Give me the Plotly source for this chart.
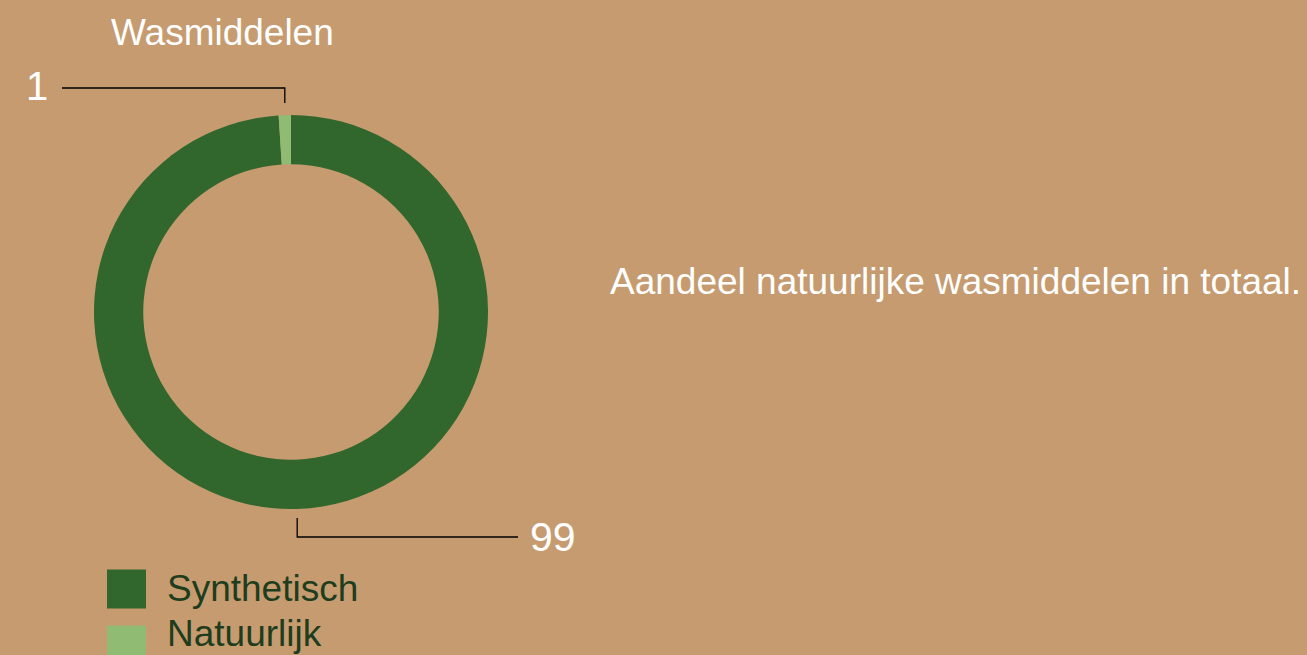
import math
import plotly.graph_objects as go

# ---- data ----
labels = ["Synthetisch", "Natuurlijk"]
values = [99, 1]
colors = ["#31662C", "#8FBB73"]
title_text = "Wasmiddelen"
side_text = "Aandeel natuurlijke wasmiddelen in totaal."

W, H = 1307, 655
FONT = "Liberation Sans, Arial, Helvetica, sans-serif"

# donut geometry (pixels)
cx, cy, R = 291, 312, 197

def px(x):
    return x / W

def py(y):
    return 1 - y / H

fig = go.Figure()
fig.add_trace(go.Pie(
    labels=labels, values=values, hole=0.75,
    sort=False, direction="clockwise", rotation=0,
    marker=dict(colors=colors, line=dict(width=0)),
    textinfo="none", showlegend=False,
    domain=dict(x=[px(cx - R), px(cx + R)], y=[py(cy + R), py(cy - R)]),
))

# leader lines from slice mid-angles (clockwise from 12 o'clock)
total = sum(values)
cum = 0
mids = []
for v in values:
    mids.append((cum + v / 2) / total * 2 * math.pi)
    cum += v

shapes = []
annotations = []

# Natuurlijk (top-left label)
a = mids[1]
x1 = cx + R * math.sin(a)
y_top = cy - R * math.cos(a)
shapes.append(dict(type="path", xref="paper", yref="paper",
                   path=f"M {px(62)} {py(88)} L {px(x1)} {py(88)} L {px(x1)} {py(y_top - 12)}",
                   line=dict(color="#000000", width=1.3)))
annotations.append(dict(text=str(values[1]), x=px(50), y=py(86), xref="paper", yref="paper",
                        xanchor="right", yanchor="middle", showarrow=False,
                        font=dict(family=FONT, size=40, color="white")))

# Synthetisch (bottom-right label)
a = mids[0]
x0 = cx + R * math.sin(a)
y_bot = cy - R * math.cos(a)
shapes.append(dict(type="path", xref="paper", yref="paper",
                   path=f"M {px(x0)} {py(y_bot + 9)} L {px(x0)} {py(537)} L {px(518)} {py(537)}",
                   line=dict(color="#000000", width=1.3)))
annotations.append(dict(text=str(values[0]), x=px(528), y=py(537), xref="paper", yref="paper",
                        xanchor="left", yanchor="middle", showarrow=False,
                        font=dict(family=FONT, size=41, color="white")))

# title & side text
annotations.append(dict(text=title_text, x=px(223), y=py(33), xref="paper", yref="paper",
                        xanchor="center", yanchor="middle", showarrow=False,
                        font=dict(family=FONT, size=37, color="white")))
annotations.append(dict(text=side_text, x=px(608), y=py(281), xref="paper", yref="paper",
                        xanchor="left", yanchor="middle", showarrow=False,
                        font=dict(family=FONT, size=37, color="white")))

# custom legend
leg_sq_y = [589, 645]
leg_txt_y = [588, 633]
for i, lab in enumerate(labels):
    shapes.append(dict(type="rect", xref="paper", yref="paper",
                       x0=px(107), x1=px(146), y0=py(leg_sq_y[i] - 19.5), y1=py(leg_sq_y[i] + 19.5),
                       fillcolor=colors[i], line=dict(width=0)))
    annotations.append(dict(text=lab, x=px(165), y=py(leg_txt_y[i]), xref="paper", yref="paper",
                            xanchor="left", yanchor="middle", showarrow=False,
                            font=dict(family=FONT, size=37, color="#1D3D1D")))

fig.update_layout(
    width=W, height=H,
    margin=dict(l=0, r=0, t=0, b=0),
    paper_bgcolor="#C69B70",
    plot_bgcolor="#C69B70",
    shapes=shapes,
    annotations=annotations,
)

fig.write_html("out.html",
               config={"displayModeBar": False},
               post_script="document.body.style.margin='0px';document.body.style.overflow='hidden';")
